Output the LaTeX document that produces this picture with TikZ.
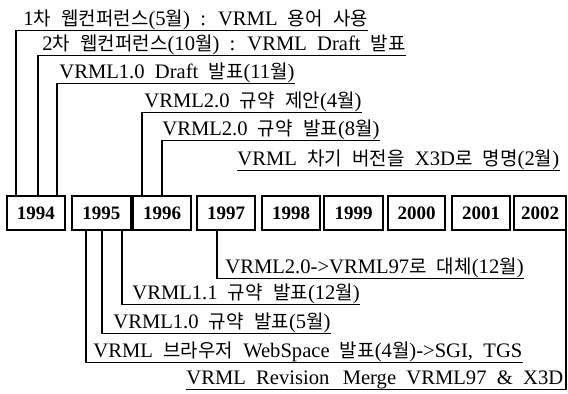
\documentclass[tikz,border=0pt]{standalone}
\usepackage{fontspec}
\setmainfont{Liberation Serif}[WordSpace=2]
\newfontfamily\krfont{Noto Sans CJK KR}[Scale=0.92]
\newcommand{\kor}[1]{{\krfont #1}}

\begin{document}
\begin{tikzpicture}[x=0.5pt,y=-0.5pt,
	yearbox/.style={draw,fill=white,line width=0.8pt,inner sep=0pt,minimum height=17pt,
		font=\fontsize{9.5}{11}\selectfont\bfseries},
	evt/.style={anchor=base west,inner sep=0pt,text height=7pt,text depth=2.5pt,
		font=\fontsize{10.3}{12}\selectfont},
	link/.style={line width=0.75pt}]
	
	\useasboundingbox (0,0) rectangle (568,393);
	
	%--- year boxes along the time line ---
	\foreach \yr/\xa/\xb in {1994/7/65, 1995/72/131, 1996/133/191, 1997/197/255,
		1998/262/320, 1999/324/383, 2000/388/445, 2001/452/510, 2002/514/566}{
		\node[yearbox,minimum width={(\xb-\xa)*0.5pt}] (b\yr) at ({(\xa+\xb)/2},213) {\yr};
	}
	
	%--- events above (underlined, hooked to the year box) ---
	\node[evt] (e1) at (23,25)  {1\kor{차} \kor{웹컨퍼런스}(5\kor{월}) : VRML \kor{용어} \kor{사용}};
	\node[evt] (e2) at (42,50)  {2\kor{차} \kor{웹컨퍼런스}(10\kor{월}) : VRML Draft \kor{발표}};
	\node[evt] (e3) at (59,78)  {VRML1.0 Draft \kor{발표}(11\kor{월})};
	\node[evt] (e4) at (144,107) {VRML2.0 \kor{규약} \kor{제안}(4\kor{월})};
	\node[evt] (e5) at (162,135) {VRML2.0 \kor{규약} \kor{발표}(8\kor{월})};
	\node[evt] (e6) at (237,165) {VRML \kor{차기} \kor{버전을} X3D\kor{로} \kor{명명}(2\kor{월})};
	
	\draw[link] ([xshift=5pt]b1994.north west)    |- (e1.south east); % 1994
	\draw[link] ([xshift=16pt]b1994.north west)   |- (e2.south east);
	\draw[link] ([xshift=25.5pt]b1994.north west) |- (e3.south east);
	\draw[link] ([xshift=5pt]b1996.north west)    |- (e4.south east); % 1996
	\draw[link] ([xshift=15pt]b1996.north west)   |- (e5.south east);
	\draw[link] (e6.south west) -- (e6.south east);                   % no hook
	
	%--- events below ---
	\node[evt] (e7) at (225,273)  {VRML2.0->VRML97\kor{로} \kor{대체}(12\kor{월})};
	\node[evt] (e8) at (132,299)  {VRML1.1 \kor{규약} \kor{발표}(12\kor{월})};
	\node[evt] (e9) at (113,328)  {VRML1.0 \kor{규약} \kor{발표}(5\kor{월})};
	\node[evt] (e10) at (93,357)  {VRML \kor{브라우저} WebSpace \kor{발표}(4\kor{월})->SGI, TGS};
	\node[evt] (e11) at (186,384) {VRML Revision\ \kern1.5pt Merge VRML97 \& X3D};
	
	\draw[link] ([xshift=10.5pt]b1997.south west) |- (e7.south east); % 1997
	\draw[link] ([xshift=25.5pt]b1995.south west) |- (e8.south east); % 1995
	\draw[link] ([xshift=15.5pt]b1995.south west) |- (e9.south east);
	\draw[link] ([xshift=7.5pt]b1995.south west)  |- (e10.south east);
	\draw[link] ([xshift=-0.5pt]b2002.south east) |- (e11.south west); % 2002
	
\end{tikzpicture}
\end{document}
